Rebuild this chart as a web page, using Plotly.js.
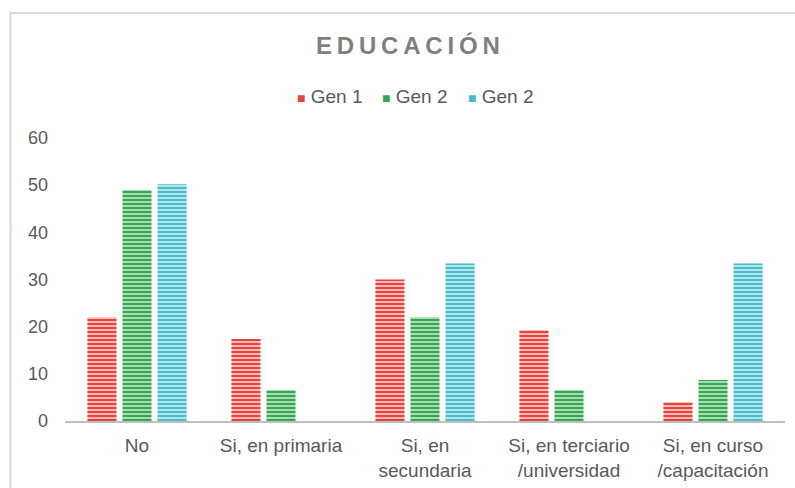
<!DOCTYPE html>
<html>
<head>
<meta charset="utf-8">
<script src="https://cdn.plot.ly/plotly-3.0.1.min.js"></script>
<style>
html,body{margin:0;padding:0;background:#fff;}
#chart{width:795px;height:488px;}
</style>
</head>
<body>
<div id="chart"></div>
<script>
const categories = ["No", "Si, en primaria", "Si, en<br>secundaria", "Si, en terciario<br>/universidad", "Si, en curso<br>/capacitación"];
const seriesNames = ["Gen 1", "Gen 2", "Gen 2"];
const gen1 = [22, 17.4, 30, 19.3, 4];
const gen2 = [49, 6.6, 22, 6.6, 8.7];
const gen3 = [50.2, 0, 33.4, 0, 33.4];
const yTicks = [0, 10, 20, 30, 40, 50, 60];

const styles = [
  {fg: "#e8433c", bg: "#f9b9b4"},
  {fg: "#35a853", bg: "#a9dbb2"},
  {fg: "#45bcc7", bg: "#b3e6eb"}
];
const values = [gen1, gen2, gen3];

const traces = values.map((v, i) => ({
  type: "bar",
  name: seriesNames[i],
  x: categories,
  y: v,
  marker: {
    color: styles[i].bg,
    line: {width: 0},
    pattern: {shape: "-", fgcolor: styles[i].fg, bgcolor: styles[i].bg, size: 4, solidity: 0.5, fillmode: "replace"}
  },
  hoverinfo: "skip",
  showlegend: false
}));

// custom legend entries (small square + label), built from series names
const legendX = [0.3194, 0.4375, 0.5569];
const legendAnn = seriesNames.map((n, i) => ({
  xref: "paper", yref: "paper",
  x: legendX[i], y: 1.148,
  xanchor: "left", yanchor: "middle",
  showarrow: false,
  text: "<span style=\"color:" + styles[i].fg + ";font-size:14px\">■</span> " + n,
  font: {size: 19, color: "#595959", family: "Liberation Sans, Arial, sans-serif"}
}));

const T = "\u2009";
const titleText = "EDUCACIÓN".split("").join(T);

const layout = {
  width: 795,
  height: 488,
  margin: {l: 65, r: 10, t: 138, b: 67},
  paper_bgcolor: "#ffffff",
  plot_bgcolor: "#ffffff",
  font: {family: "Liberation Sans, Arial, sans-serif", color: "#595959", size: 19},
  title: {
    text: "<b>" + titleText + "</b>",
    font: {size: 24, color: "#7f7f7f", family: "Liberation Sans, Arial, sans-serif"},
    x: 0.513, xanchor: "center", y: 0.906, yanchor: "middle", yref: "container"
  },
  barmode: "group",
  bargap: 0.27,
  bargroupgap: 0.17,
  showlegend: false,
  annotations: legendAnn,
  xaxis: {
    showgrid: false,
    showline: true,
    linecolor: "#bfbfbf",
    linewidth: 2,
    ticks: "",
    ticklabelstandoff: 6,
    tickfont: {size: 19, color: "#595959"},
    fixedrange: true
  },
  yaxis: {
    range: [0, 60],
    tickvals: yTicks,
    showgrid: false,
    zeroline: false,
    showline: false,
    ticks: "",
    ticklabelstandoff: 16,
    tickfont: {size: 18, color: "#595959"},
    fixedrange: true
  },
  shapes: [{
    type: "rect",
    xref: "paper", yref: "paper",
    x0: -0.0757, x1: 1.2,
    y0: -1, y1: 1.4417,
    line: {color: "#d9d9d9", width: 2},
    fillcolor: "rgba(0,0,0,0)",
    layer: "below"
  }]
};

Plotly.newPlot("chart", traces, layout, {displayModeBar: false, staticPlot: true});
</script>
</body>
</html>
